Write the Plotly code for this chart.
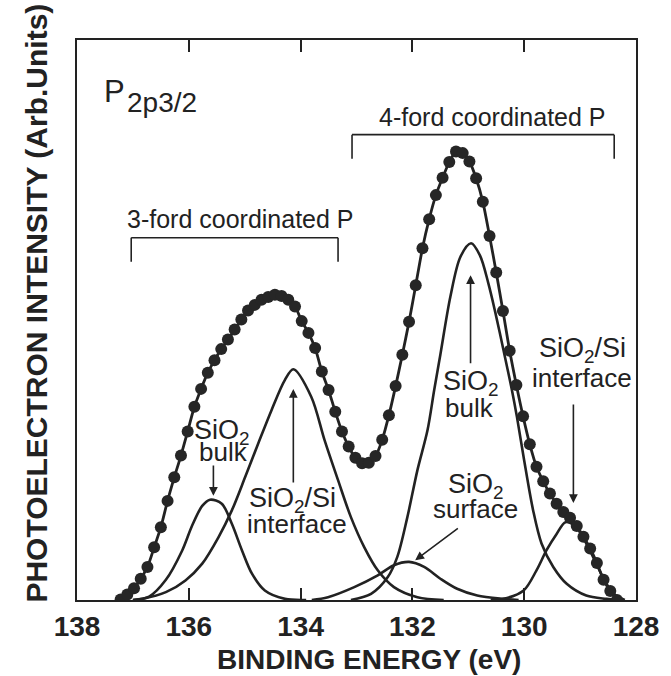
import plotly.graph_objects as go

# ---- measured spectrum (dots) ----
energy = [137.22, 137.10, 136.98, 136.86, 136.74, 136.62, 136.50, 136.38, 136.26, 136.14,
          136.02, 135.90, 135.78, 135.66, 135.54, 135.42, 135.30, 135.18, 135.06, 134.94,
          134.82, 134.70, 134.58, 134.46, 134.34, 134.22, 134.10, 133.98, 133.86, 133.74,
          133.62, 133.50, 133.38, 133.26, 133.14, 133.02, 132.90, 132.78, 132.66, 132.54,
          132.42, 132.30, 132.18, 132.06, 131.94, 131.82, 131.70, 131.58, 131.46, 131.34,
          131.22, 131.10, 130.98, 130.86, 130.74, 130.62, 130.50, 130.38, 130.26, 130.14,
          130.02, 129.90, 129.78, 129.66, 129.54, 129.42, 129.30, 129.18, 129.06, 128.94,
          128.82, 128.70, 128.58, 128.46, 128.34]
intensity = [0.1, 1.0, 2.1, 3.8, 5.9, 9.4, 13.0, 17.7, 21.9, 25.8,
             30.1, 34.5, 37.7, 40.6, 42.8, 44.8, 46.5, 48.3, 50.1, 51.7,
             52.7, 53.6, 54.1, 54.5, 54.3, 53.6, 52.4, 49.8, 47.7, 45.0,
             40.8, 37.5, 33.6, 30.1, 27.4, 25.4, 24.4, 24.5, 25.7, 28.6,
             33.0, 38.2, 43.8, 49.7, 56.2, 62.8, 68.0, 72.3, 75.4, 78.2,
             80.1, 79.8, 78.3, 75.3, 71.1, 65.0, 58.5, 51.6, 44.5, 38.4,
             32.8, 27.8, 23.8, 21.2, 19.0, 17.2, 15.7, 14.7, 13.2, 11.3,
             9.2, 6.6, 3.6, 1.6, 0.0]

# ---- fitted components ----
bulk3_e = [137.00, 136.71, 136.41, 136.12, 135.94, 135.76, 135.62, 135.41, 135.23, 135.05, 134.87, 134.64, 134.28, 133.90]
bulk3_i = [0.0, 0.6, 3.6, 8.8, 13.3, 16.8, 17.9, 17.2, 13.6, 8.9, 4.7, 1.7, 0.2, 0.0]

intf3_e = [137.00, 136.83, 136.41, 136.06, 135.76, 135.47, 135.23, 134.99, 134.76, 134.52, 134.28, 134.13,
           133.81, 133.57, 133.33, 133.10, 132.86, 132.62, 132.33, 131.91, 131.44]
intf3_i = [0.0, 0.2, 1.4, 3.5, 6.5, 11.2, 16.0, 22.0, 27.9, 33.9, 39.3, 41.2,
           36.3, 28.5, 21.4, 14.8, 9.4, 5.3, 2.3, 0.5, 0.0]

surf_e = [133.80, 133.51, 133.04, 132.62, 132.33, 132.06, 131.79, 131.50, 131.20, 130.84, 130.37, 130.10]
surf_i = [0.0, 0.5, 2.3, 4.4, 6.2, 6.8, 5.9, 3.8, 2.0, 0.8, 0.2, 0.0]

bulk4_e = [133.10, 132.74, 132.44, 132.27, 132.09, 131.91, 131.73, 131.61, 131.50, 131.32, 131.14, 130.95,
           130.79, 130.64, 130.52, 130.37, 130.22, 130.13, 130.01, 129.84, 129.69, 129.48, 129.24, 128.89, 128.53, 128.30]
bulk4_i = [0.0, 1.1, 4.1, 7.7, 14.8, 23.2, 30.3, 37.5, 43.8, 54.2, 61.3, 63.7,
           61.5, 56.5, 51.5, 44.6, 37.5, 32.7, 25.5, 16.0, 10.1, 5.9, 2.9, 0.8, 0.2, 0.0]

intf4_e = [130.60, 130.37, 130.01, 129.78, 129.60, 129.42, 129.26, 129.07, 128.89, 128.71, 128.53, 128.36, 128.20]
intf4_i = [0.0, 0.2, 1.7, 5.3, 8.9, 11.8, 13.9, 13.0, 10.1, 6.5, 2.9, 0.8, 0.0]

x_ticks = [138, 136, 134, 132, 130, 128]

INK = "#222222"
FONT = "Liberation Sans, Arial, Helvetica, sans-serif"

fig = go.Figure()
for ce, ci in [(bulk3_e, bulk3_i), (intf3_e, intf3_i), (surf_e, surf_i), (bulk4_e, bulk4_i), (intf4_e, intf4_i)]:
    fig.add_trace(go.Scatter(x=ce, y=ci, mode="lines",
                             line=dict(color=INK, width=2.6, shape="spline", smoothing=0.9),
                             hoverinfo="skip", showlegend=False))
fig.add_trace(go.Scatter(x=energy, y=intensity, mode="lines+markers",
                         line=dict(color=INK, width=2.8, shape="spline", smoothing=0.8),
                         marker=dict(size=12, color="#262626"),
                         showlegend=False))

anns = []
def txt(x, y, s, size=26, **kw):
    anns.append(dict(x=x, y=y, xref="x", yref="y", text=s, showarrow=False,
                     font=dict(family=FONT, size=size, color=INK), xanchor="center", yanchor="middle", **kw))

def arrow(x, y, ax, ay):
    anns.append(dict(x=x, y=y, ax=ax, ay=ay, xref="x", yref="y", axref="x", ayref="y",
                     text="", showarrow=True, arrowhead=2, arrowsize=1.1, arrowwidth=1.6, arrowcolor=INK))

# header labels
txt(137.33, 90.8, "P", size=31)
txt(136.48, 88.9, "2p3/2", size=28)
txt(135.07, 68.1, "3-ford coordinated P", size=25)
txt(130.56, 86.3, "4-ford coordinated P", size=25)

# component labels
txt(135.40, 30.0, "SiO<sub>2</sub>", size=27)
txt(135.38, 26.4, "bulk", size=26)
arrow(135.56, 18.6, 135.56, 24.3)

txt(134.15, 17.8, "SiO<sub>2</sub>/Si", size=27)
txt(134.07, 13.5, "interface", size=26)
arrow(134.13, 37.7, 134.13, 20.7)

txt(130.95, 38.8, "SiO<sub>2</sub>", size=27)
txt(130.98, 34.3, "bulk", size=26)
arrow(130.96, 58.0, 130.96, 42.0)

txt(130.86, 20.4, "SiO<sub>2</sub>", size=27)
txt(130.88, 16.2, "surface", size=26)
arrow(131.95, 7.1, 131.16, 13.0)

txt(128.95, 44.7, "SiO<sub>2</sub>/Si", size=27)
txt(128.96, 39.6, "interface", size=26)
arrow(129.12, 17.3, 129.12, 35.2)

# axis titles
anns.append(dict(x=0.522, y=-0.106, xref="paper", yref="paper", text="<b>BINDING ENERGY (eV)</b>",
                 showarrow=False, font=dict(family=FONT, size=28, color=INK), xanchor="center", yanchor="middle"))
anns.append(dict(x=-0.0716, y=0.531, xref="paper", yref="paper", text="<b>PHOTOELECTRON INTENSITY (Arb.Units)</b>",
                 textangle=-90, showarrow=False, font=dict(family=FONT, size=30, color=INK),
                 xanchor="center", yanchor="middle"))

# brackets
shapes = []
def seg(x0, y0, x1, y1):
    shapes.append(dict(type="line", xref="x", yref="y", x0=x0, y0=y0, x1=x1, y1=y1,
                       line=dict(color=INK, width=1.6)))
seg(137.03, 64.7, 133.33, 64.7)
seg(137.03, 64.7, 137.03, 60.4)
seg(133.33, 64.7, 133.33, 60.4)
seg(133.08, 83.1, 128.39, 83.1)
seg(133.08, 83.1, 133.08, 78.8)
seg(128.39, 83.1, 128.39, 78.8)

fig.update_layout(
    width=671, height=676,
    margin=dict(l=77, r=31, t=40, b=76),
    paper_bgcolor="white", plot_bgcolor="white",
    annotations=anns, shapes=shapes,
    xaxis=dict(range=[138, 128], tickvals=x_ticks, ticktext=[str(v) for v in x_ticks],
               ticks="inside", ticklen=12, tickwidth=2, tickcolor=INK,
               showline=True, linewidth=2, linecolor=INK, mirror="ticks",
               showgrid=False, zeroline=False,
               tickfont=dict(family=FONT, size=28, color=INK, weight="bold")),
    yaxis=dict(range=[0, 100], showticklabels=False, ticks="",
               showline=True, linewidth=2, linecolor=INK, mirror=True,
               showgrid=False, zeroline=False),
)

fig.write_html("out.html")
